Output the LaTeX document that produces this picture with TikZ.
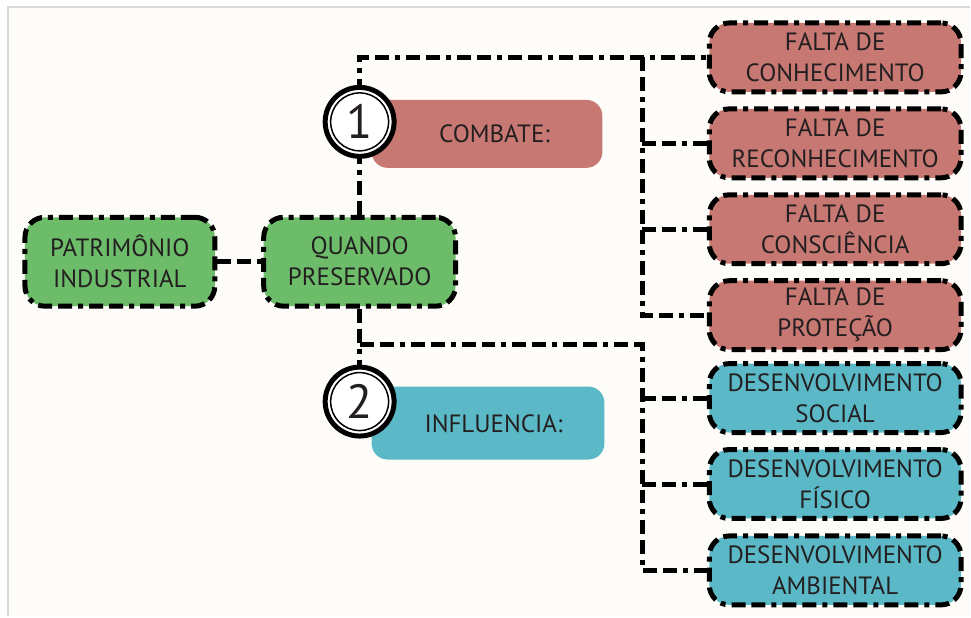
\documentclass[tikz,border=0pt]{standalone}
\usepackage{fontspec}
\setmainfont{PT Sans}
\definecolor{bgc}{HTML}{FDFCF8}
\definecolor{framec}{HTML}{D9D9D9}
\definecolor{greenc}{HTML}{6CBC69}
\definecolor{redc}{HTML}{C77872}
\definecolor{tealc}{HTML}{5BB9C7}
\definecolor{txt}{HTML}{231F20}
\pgfdeclarelayer{bg}
\pgfdeclarelayer{lines}
\pgfsetlayers{bg,lines,main}
\tikzset{
  lbl/.style={font=\fontsize{25}{31}\selectfont, text=txt, align=center},
  dd/.style={dash pattern=on 14pt off 6pt on 14pt off 6pt on 5pt off 6pt},
  box/.style={lbl, draw=black, line width=5pt, dd, rounded corners=20pt,
    minimum width=252pt, minimum height=69pt, inner sep=0pt},
  gbox/.style={box, fill=greenc, minimum width=192pt, minimum height=89pt},
  rbox/.style={box, fill=redc},
  tbox/.style={box, fill=tealc},
  catbox/.style={rounded corners=16pt, inner sep=0pt},
  numc/.style={circle, draw=black, fill=white, line width=5pt, minimum size=69pt,
    inner sep=0pt, font=\fontsize{48}{48}\selectfont, text=txt},
  conn/.style={draw=black, line width=5pt, dd},
}
\begin{document}
\begin{tikzpicture}[x=1pt,y=-1pt]
\begin{pgfonlayer}{bg}
  \fill[white] (0,0) rectangle (971,617);
  \fill[bgc] (8,7) rectangle (971,617);
  \draw[framec, line width=2pt] (8,617) -- (8,7) -- (971,7);
\end{pgfonlayer}
\useasboundingbox (0,0) rectangle (971,617);

% green nodes
\node[gbox, minimum width=190pt] (p) at (120,262) {PATRIMÔNIO\\INDUSTRIAL};
\node[gbox] (q) at (360,262) {QUANDO\\PRESERVADO};

% category boxes
\node[catbox, fill=redc, minimum width=231pt, minimum height=68pt] (cb) at (487.5,134) {};
\node[lbl] (cbt) at (495,134) {COMBATE:};
\node[catbox, fill=tealc, minimum width=233pt, minimum height=73pt] (ib) at (488.5,423.5) {};
\node[lbl] (ibt) at (494,424) {INFLUENCIA:};

% numbered circles
\node[numc] (c1) at (360,122) {1};
\draw[line width=1.5pt] (c1.center) circle (29pt);
\node[numc] (c2) at (360,402) {2};
\draw[line width=1.5pt] (c2.center) circle (29pt);

% right boxes
\node[rbox] (r1) at (836,57.5) {FALTA DE\\CONHECIMENTO};
\node[rbox] (r2) at (836,143.5) {FALTA DE\\RECONHECIMENTO};
\node[rbox] (r3) at (836,229.5) {FALTA DE\\CONSCIÊNCIA};
\node[rbox] (r4) at (836,315.5) {FALTA DE\\PROTEÇÃO};
\node[tbox] (t1) at (836,398.5) {DESENVOLVIMENTO\\SOCIAL};
\node[tbox] (t2) at (836,484.5) {DESENVOLVIMENTO\\FÍSICO};
\node[tbox] (t3) at (836,571) {DESENVOLVIMENTO\\AMBIENTAL};

\coordinate (b) at (643,0);
\coordinate (j2) at (360,345);

\begin{pgfonlayer}{lines}
  \draw[conn] (p.east) -- (q.west);
  \draw[conn] (q.north) |- (r1.west);
  \draw[conn] (r1.west -| b) |- (r4.west);
  \draw[conn] (r2.west -| b) -- (r2.west);
  \draw[conn] (r3.west -| b) -- (r3.west);
  \draw[conn] (q.south) -- (c2.north);
  \draw[conn] (j2) -- (j2 -| b) |- (t3.west);
  \draw[conn] (t1.west -| b) -- (t1.west);
  \draw[conn] (t2.west -| b) -- (t2.west);
\end{pgfonlayer}
\end{tikzpicture}
\end{document}
